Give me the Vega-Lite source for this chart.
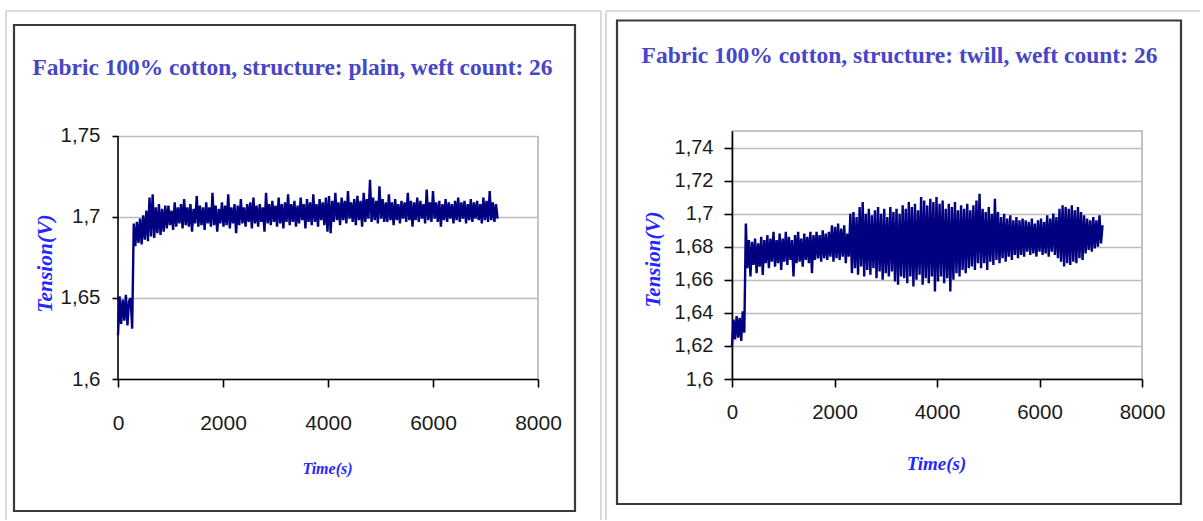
{
  "$schema": "https://vega.github.io/schema/vega-lite/v6.json",
  "padding": {"left": 5, "top": 9, "right": 0, "bottom": 0},
  "spacing": 2,
  "background": "white",
  "config": {
    "font": "Liberation Sans",
    "view": {"stroke": "#b4b4b4", "strokeWidth": 1.6},
    "axis": {
      "domainColor": "#000000",
      "domainWidth": 1.6,
      "tickColor": "#000000",
      "tickWidth": 1.6,
      "gridColor": "#bdbdbd",
      "gridWidth": 1.6,
      "labelFont": "Liberation Sans",
      "labelColor": "#1a1a1a",
      "labelFlush": false,
      "labelOverlap": false,
      "titleFont": "Liberation Serif",
      "titleFontStyle": "italic",
      "titleFontWeight": "bold",
      "titleColor": "#2626ff",
      "titleAlign": "center",
      "titleBaseline": "middle"
    }
  },
  "datasets": {
    "plain": [
      {"t":0,"v":1.627},{"t":30,"v":1.651},{"t":60,"v":1.634},{"t":90,"v":1.649},{"t":120,"v":1.636},{"t":150,"v":1.652},{"t":180,"v":1.633},{"t":210,"v":1.648},{"t":240,"v":1.650},{"t":270,"v":1.631},
      {"t":300,"v":1.696},{"t":330,"v":1.682},{"t":360,"v":1.697},{"t":390,"v":1.684},{"t":420,"v":1.699},{"t":450,"v":1.683},{"t":480,"v":1.701},{"t":510,"v":1.686},{"t":540,"v":1.704},{"t":570,"v":1.685},
      {"t":600,"v":1.712},{"t":630,"v":1.688},{"t":660,"v":1.714},{"t":690,"v":1.687},{"t":720,"v":1.706},{"t":750,"v":1.690},{"t":780,"v":1.708},{"t":810,"v":1.689},{"t":840,"v":1.705},{"t":870,"v":1.691},
      {"t":900,"v":1.707},{"t":930,"v":1.693},{"t":960,"v":1.707},{"t":990,"v":1.695},{"t":1020,"v":1.704},{"t":1050,"v":1.692},{"t":1080,"v":1.709},{"t":1110,"v":1.694},{"t":1140,"v":1.706},{"t":1170,"v":1.696},
      {"t":1200,"v":1.708},{"t":1230,"v":1.693},{"t":1260,"v":1.711},{"t":1290,"v":1.695},{"t":1320,"v":1.706},{"t":1350,"v":1.694},{"t":1380,"v":1.708},{"t":1410,"v":1.691},{"t":1440,"v":1.705},{"t":1470,"v":1.696},
      {"t":1500,"v":1.713},{"t":1530,"v":1.694},{"t":1560,"v":1.707},{"t":1590,"v":1.695},{"t":1620,"v":1.706},{"t":1650,"v":1.692},{"t":1680,"v":1.709},{"t":1710,"v":1.696},{"t":1740,"v":1.706},{"t":1770,"v":1.694},
      {"t":1800,"v":1.715},{"t":1830,"v":1.695},{"t":1860,"v":1.707},{"t":1890,"v":1.691},{"t":1920,"v":1.705},{"t":1950,"v":1.696},{"t":1980,"v":1.709},{"t":2010,"v":1.694},{"t":2040,"v":1.707},{"t":2070,"v":1.695},
      {"t":2100,"v":1.714},{"t":2130,"v":1.693},{"t":2160,"v":1.706},{"t":2190,"v":1.696},{"t":2220,"v":1.708},{"t":2250,"v":1.690},{"t":2280,"v":1.707},{"t":2310,"v":1.695},{"t":2340,"v":1.711},{"t":2370,"v":1.696},
      {"t":2400,"v":1.706},{"t":2430,"v":1.694},{"t":2460,"v":1.708},{"t":2490,"v":1.697},{"t":2520,"v":1.709},{"t":2550,"v":1.693},{"t":2580,"v":1.712},{"t":2610,"v":1.696},{"t":2640,"v":1.707},{"t":2670,"v":1.694},
      {"t":2700,"v":1.708},{"t":2730,"v":1.697},{"t":2760,"v":1.706},{"t":2790,"v":1.691},{"t":2820,"v":1.715},{"t":2850,"v":1.696},{"t":2880,"v":1.708},{"t":2910,"v":1.695},{"t":2940,"v":1.710},{"t":2970,"v":1.697},
      {"t":3000,"v":1.707},{"t":3030,"v":1.694},{"t":3060,"v":1.712},{"t":3090,"v":1.696},{"t":3120,"v":1.708},{"t":3150,"v":1.693},{"t":3180,"v":1.709},{"t":3210,"v":1.697},{"t":3240,"v":1.714},{"t":3270,"v":1.695},
      {"t":3300,"v":1.708},{"t":3330,"v":1.697},{"t":3360,"v":1.710},{"t":3390,"v":1.694},{"t":3420,"v":1.707},{"t":3450,"v":1.696},{"t":3480,"v":1.712},{"t":3510,"v":1.698},{"t":3540,"v":1.708},{"t":3570,"v":1.693},
      {"t":3600,"v":1.711},{"t":3630,"v":1.697},{"t":3660,"v":1.709},{"t":3690,"v":1.695},{"t":3720,"v":1.714},{"t":3750,"v":1.697},{"t":3780,"v":1.708},{"t":3810,"v":1.694},{"t":3840,"v":1.711},{"t":3870,"v":1.698},
      {"t":3900,"v":1.709},{"t":3930,"v":1.695},{"t":3960,"v":1.712},{"t":3990,"v":1.691},{"t":4020,"v":1.713},{"t":4050,"v":1.690},{"t":4080,"v":1.710},{"t":4110,"v":1.697},{"t":4140,"v":1.715},{"t":4170,"v":1.698},
      {"t":4200,"v":1.709},{"t":4230,"v":1.695},{"t":4260,"v":1.712},{"t":4290,"v":1.698},{"t":4320,"v":1.710},{"t":4350,"v":1.696},{"t":4380,"v":1.716},{"t":4410,"v":1.699},{"t":4440,"v":1.709},{"t":4470,"v":1.697},
      {"t":4500,"v":1.711},{"t":4530,"v":1.695},{"t":4560,"v":1.713},{"t":4590,"v":1.698},{"t":4620,"v":1.710},{"t":4650,"v":1.694},{"t":4680,"v":1.715},{"t":4710,"v":1.697},{"t":4740,"v":1.711},{"t":4770,"v":1.699},
      {"t":4800,"v":1.723},{"t":4830,"v":1.697},{"t":4860,"v":1.712},{"t":4890,"v":1.698},{"t":4920,"v":1.710},{"t":4950,"v":1.696},{"t":4980,"v":1.719},{"t":5010,"v":1.699},{"t":5040,"v":1.711},{"t":5070,"v":1.697},
      {"t":5100,"v":1.709},{"t":5130,"v":1.697},{"t":5160,"v":1.714},{"t":5190,"v":1.698},{"t":5220,"v":1.709},{"t":5250,"v":1.695},{"t":5280,"v":1.711},{"t":5310,"v":1.698},{"t":5340,"v":1.708},{"t":5370,"v":1.696},
      {"t":5400,"v":1.710},{"t":5430,"v":1.699},{"t":5460,"v":1.709},{"t":5490,"v":1.697},{"t":5520,"v":1.715},{"t":5550,"v":1.698},{"t":5580,"v":1.710},{"t":5610,"v":1.694},{"t":5640,"v":1.709},{"t":5670,"v":1.698},
      {"t":5700,"v":1.712},{"t":5730,"v":1.697},{"t":5760,"v":1.710},{"t":5790,"v":1.699},{"t":5820,"v":1.708},{"t":5850,"v":1.696},{"t":5880,"v":1.717},{"t":5910,"v":1.698},{"t":5940,"v":1.709},{"t":5970,"v":1.697},
      {"t":6000,"v":1.716},{"t":6030,"v":1.699},{"t":6060,"v":1.709},{"t":6090,"v":1.697},{"t":6120,"v":1.710},{"t":6150,"v":1.694},{"t":6180,"v":1.708},{"t":6210,"v":1.698},{"t":6240,"v":1.711},{"t":6270,"v":1.697},
      {"t":6300,"v":1.709},{"t":6330,"v":1.699},{"t":6360,"v":1.708},{"t":6390,"v":1.696},{"t":6420,"v":1.710},{"t":6450,"v":1.698},{"t":6480,"v":1.712},{"t":6510,"v":1.697},{"t":6540,"v":1.709},{"t":6570,"v":1.699},
      {"t":6600,"v":1.710},{"t":6630,"v":1.696},{"t":6660,"v":1.708},{"t":6690,"v":1.698},{"t":6720,"v":1.711},{"t":6750,"v":1.697},{"t":6780,"v":1.709},{"t":6810,"v":1.699},{"t":6840,"v":1.710},{"t":6870,"v":1.698},
      {"t":6900,"v":1.708},{"t":6930,"v":1.696},{"t":6960,"v":1.712},{"t":6990,"v":1.698},{"t":7020,"v":1.710},{"t":7050,"v":1.697},{"t":7080,"v":1.716},{"t":7110,"v":1.698},{"t":7140,"v":1.709},{"t":7170,"v":1.697},
      {"t":7200,"v":1.708},{"t":7230,"v":1.699}
    ],
    "twill": [
      {"t":0,"v":1.620},{"t":30,"v":1.636},{"t":60,"v":1.624},{"t":90,"v":1.638},{"t":120,"v":1.625},{"t":150,"v":1.637},{"t":180,"v":1.623},{"t":210,"v":1.641},{"t":240,"v":1.628},{"t":270,"v":1.694},
      {"t":300,"v":1.667},{"t":330,"v":1.684},{"t":360,"v":1.662},{"t":390,"v":1.683},{"t":420,"v":1.669},{"t":450,"v":1.685},{"t":480,"v":1.664},{"t":510,"v":1.682},{"t":540,"v":1.668},{"t":570,"v":1.686},
      {"t":600,"v":1.663},{"t":630,"v":1.684},{"t":660,"v":1.670},{"t":690,"v":1.687},{"t":720,"v":1.667},{"t":750,"v":1.685},{"t":780,"v":1.671},{"t":810,"v":1.689},{"t":840,"v":1.668},{"t":870,"v":1.684},
      {"t":900,"v":1.670},{"t":930,"v":1.688},{"t":960,"v":1.666},{"t":990,"v":1.685},{"t":1020,"v":1.671},{"t":1050,"v":1.689},{"t":1080,"v":1.669},{"t":1110,"v":1.686},{"t":1140,"v":1.672},{"t":1170,"v":1.684},
      {"t":1200,"v":1.662},{"t":1230,"v":1.687},{"t":1260,"v":1.670},{"t":1290,"v":1.689},{"t":1320,"v":1.671},{"t":1350,"v":1.685},{"t":1380,"v":1.668},{"t":1410,"v":1.688},{"t":1440,"v":1.672},{"t":1470,"v":1.686},
      {"t":1500,"v":1.670},{"t":1530,"v":1.689},{"t":1560,"v":1.664},{"t":1590,"v":1.687},{"t":1620,"v":1.672},{"t":1650,"v":1.689},{"t":1680,"v":1.673},{"t":1710,"v":1.687},{"t":1740,"v":1.671},{"t":1770,"v":1.690},
      {"t":1800,"v":1.673},{"t":1830,"v":1.688},{"t":1860,"v":1.672},{"t":1890,"v":1.689},{"t":1920,"v":1.674},{"t":1950,"v":1.693},{"t":1980,"v":1.671},{"t":2010,"v":1.692},{"t":2040,"v":1.673},{"t":2070,"v":1.694},
      {"t":2100,"v":1.672},{"t":2130,"v":1.691},{"t":2160,"v":1.674},{"t":2190,"v":1.693},{"t":2220,"v":1.670},{"t":2250,"v":1.688},{"t":2280,"v":1.674},{"t":2310,"v":1.700},{"t":2340,"v":1.664},{"t":2370,"v":1.701},
      {"t":2400,"v":1.667},{"t":2430,"v":1.698},{"t":2460,"v":1.663},{"t":2490,"v":1.704},{"t":2520,"v":1.668},{"t":2550,"v":1.707},{"t":2580,"v":1.662},{"t":2610,"v":1.700},{"t":2640,"v":1.666},{"t":2670,"v":1.703},
      {"t":2700,"v":1.663},{"t":2730,"v":1.699},{"t":2760,"v":1.667},{"t":2790,"v":1.702},{"t":2820,"v":1.661},{"t":2850,"v":1.704},{"t":2880,"v":1.665},{"t":2910,"v":1.700},{"t":2940,"v":1.660},{"t":2970,"v":1.703},
      {"t":3000,"v":1.664},{"t":3030,"v":1.698},{"t":3060,"v":1.662},{"t":3090,"v":1.704},{"t":3120,"v":1.665},{"t":3150,"v":1.701},{"t":3180,"v":1.659},{"t":3210,"v":1.703},{"t":3240,"v":1.657},{"t":3270,"v":1.700},
      {"t":3300,"v":1.662},{"t":3330,"v":1.705},{"t":3360,"v":1.661},{"t":3390,"v":1.703},{"t":3420,"v":1.658},{"t":3450,"v":1.707},{"t":3480,"v":1.662},{"t":3510,"v":1.704},{"t":3540,"v":1.656},{"t":3570,"v":1.706},
      {"t":3600,"v":1.660},{"t":3630,"v":1.702},{"t":3660,"v":1.663},{"t":3690,"v":1.710},{"t":3720,"v":1.657},{"t":3750,"v":1.708},{"t":3780,"v":1.661},{"t":3810,"v":1.705},{"t":3840,"v":1.658},{"t":3870,"v":1.709},
      {"t":3900,"v":1.662},{"t":3930,"v":1.707},{"t":3960,"v":1.653},{"t":3990,"v":1.710},{"t":4020,"v":1.659},{"t":4050,"v":1.706},{"t":4080,"v":1.662},{"t":4110,"v":1.708},{"t":4140,"v":1.658},{"t":4170,"v":1.703},
      {"t":4200,"v":1.661},{"t":4230,"v":1.706},{"t":4260,"v":1.653},{"t":4290,"v":1.704},{"t":4320,"v":1.660},{"t":4350,"v":1.707},{"t":4380,"v":1.664},{"t":4410,"v":1.702},{"t":4440,"v":1.662},{"t":4470,"v":1.705},
      {"t":4500,"v":1.666},{"t":4530,"v":1.703},{"t":4560,"v":1.664},{"t":4590,"v":1.706},{"t":4620,"v":1.667},{"t":4650,"v":1.702},{"t":4680,"v":1.668},{"t":4710,"v":1.705},{"t":4740,"v":1.666},{"t":4770,"v":1.708},
      {"t":4800,"v":1.670},{"t":4830,"v":1.712},{"t":4860,"v":1.667},{"t":4890,"v":1.703},{"t":4920,"v":1.670},{"t":4950,"v":1.701},{"t":4980,"v":1.666},{"t":5010,"v":1.704},{"t":5040,"v":1.671},{"t":5070,"v":1.700},
      {"t":5100,"v":1.669},{"t":5130,"v":1.709},{"t":5160,"v":1.672},{"t":5190,"v":1.701},{"t":5220,"v":1.670},{"t":5250,"v":1.698},{"t":5280,"v":1.673},{"t":5310,"v":1.700},{"t":5340,"v":1.671},{"t":5370,"v":1.697},
      {"t":5400,"v":1.674},{"t":5430,"v":1.699},{"t":5460,"v":1.672},{"t":5490,"v":1.696},{"t":5520,"v":1.675},{"t":5550,"v":1.698},{"t":5580,"v":1.673},{"t":5610,"v":1.696},{"t":5640,"v":1.675},{"t":5670,"v":1.697},
      {"t":5700,"v":1.674},{"t":5730,"v":1.696},{"t":5760,"v":1.677},{"t":5790,"v":1.695},{"t":5820,"v":1.675},{"t":5850,"v":1.697},{"t":5880,"v":1.676},{"t":5910,"v":1.694},{"t":5940,"v":1.674},{"t":5970,"v":1.696},
      {"t":6000,"v":1.677},{"t":6030,"v":1.697},{"t":6060,"v":1.675},{"t":6090,"v":1.695},{"t":6120,"v":1.676},{"t":6150,"v":1.699},{"t":6180,"v":1.674},{"t":6210,"v":1.697},{"t":6240,"v":1.677},{"t":6270,"v":1.700},
      {"t":6300,"v":1.675},{"t":6330,"v":1.698},{"t":6360,"v":1.673},{"t":6390,"v":1.703},{"t":6420,"v":1.671},{"t":6450,"v":1.705},{"t":6480,"v":1.668},{"t":6510,"v":1.704},{"t":6540,"v":1.670},{"t":6570,"v":1.703},
      {"t":6600,"v":1.669},{"t":6630,"v":1.705},{"t":6660,"v":1.671},{"t":6690,"v":1.702},{"t":6720,"v":1.670},{"t":6750,"v":1.704},{"t":6780,"v":1.673},{"t":6810,"v":1.701},{"t":6840,"v":1.672},{"t":6870,"v":1.699},
      {"t":6900,"v":1.676},{"t":6930,"v":1.697},{"t":6960,"v":1.678},{"t":6990,"v":1.696},{"t":7020,"v":1.677},{"t":7050,"v":1.698},{"t":7080,"v":1.679},{"t":7110,"v":1.696},{"t":7140,"v":1.680},{"t":7170,"v":1.699},
      {"t":7200,"v":1.682},{"t":7230,"v":1.693}
    ]
  },
  "hconcat": [
    {
      "width": 420,
      "height": 248,
      "view": {"stroke": null},
      "layer": [
        {
          "data": {"values": [{}]},
          "mark": {"type": "rule", "color": "#dadada", "strokeWidth": 2},
          "encoding": {
            "x": {"datum": -2133.3, "type": "quantitative", "scale": {"domain": [0, 8000], "nice": false}},
            "x2": {"datum": 9200},
            "y": {"datum": 1.82716, "type": "quantitative", "scale": {"domain": [1.6, 1.753086], "nice": false, "zero": false}}
          }
        },
        {
          "data": {"values": [{}]},
          "mark": {"type": "rule", "color": "#dadada", "strokeWidth": 2},
          "encoding": {
            "x": {"datum": -2133.3, "type": "quantitative", "scale": {"domain": [0, 8000], "nice": false}},
            "y": {"datum": 1.82716, "type": "quantitative", "scale": {"domain": [1.6, 1.753086], "nice": false, "zero": false}},
            "y2": {"datum": 1.51296}
          }
        },
        {
          "data": {"values": [{}]},
          "mark": {"type": "rule", "color": "#dadada", "strokeWidth": 2},
          "encoding": {
            "x": {"datum": 9200, "type": "quantitative", "scale": {"domain": [0, 8000], "nice": false}},
            "y": {"datum": 1.82716, "type": "quantitative", "scale": {"domain": [1.6, 1.753086], "nice": false, "zero": false}},
            "y2": {"datum": 1.51296}
          }
        },
        {
          "data": {"values": [{}]},
          "mark": {"type": "rect", "filled": false, "color": "#3a3a3a", "stroke": "#3a3a3a", "strokeWidth": 2.2},
          "encoding": {
            "x": {"datum": -1981, "type": "quantitative", "scale": {"domain": [0, 8000], "nice": false}},
            "x2": {"datum": 8704.8},
            "y": {"datum": 1.818519, "type": "quantitative", "scale": {"domain": [1.6, 1.753086], "nice": false, "zero": false}},
            "y2": {"datum": 1.518519}
          }
        },
        {
          "data": {"values": [{}]},
          "mark": {"type": "text", "text": "Fabric 100% cotton, structure: plain, weft count: 26", "font": "Liberation Serif", "fontWeight": "bold", "fontSize": 23.4, "color": "#4646c8", "align": "center", "baseline": "alphabetic"},
          "encoding": {
            "x": {"datum": 3323.8, "type": "quantitative", "scale": {"domain": [0, 8000], "nice": false}},
            "y": {"datum": 1.787654, "type": "quantitative", "scale": {"domain": [1.6, 1.753086], "nice": false, "zero": false}}
          }
        },
        {
          "data": {"values": [{}]},
          "mark": {"type": "rule", "color": "#b4b4b4", "strokeWidth": 1.6},
          "encoding": {
            "x": {"datum": 8000, "type": "quantitative", "scale": {"domain": [0, 8000], "nice": false}},
            "y": {"datum": 1.6, "type": "quantitative", "scale": {"domain": [1.6, 1.753086], "nice": false, "zero": false}},
            "y2": {"datum": 1.75}
          }
        },
        {
          "data": {"values": [{}]},
          "mark": {"type": "rule", "color": "#000000", "strokeWidth": 1.6},
          "encoding": {
            "x": {"datum": 0, "type": "quantitative", "scale": {"domain": [0, 8000], "nice": false}},
            "y": {"datum": 1.6, "type": "quantitative", "scale": {"domain": [1.6, 1.753086], "nice": false, "zero": false}},
            "y2": {"datum": 1.75}
          }
        },
        {
          "data": {"name": "plain"},
          "mark": {"type": "line", "color": "#000080", "strokeWidth": 2.4},
          "encoding": {
            "x": {
              "field": "t", "type": "quantitative",
              "scale": {"domain": [0, 8000], "nice": false},
              "axis": {
                "values": [0, 2000, 4000, 6000, 8000], "grid": false, "format": "d", "tickCount": 10,
                "title": "Time(s)", "titleFontSize": 16, "titleX": 209, "titleY": 89,
                "labelFontSize": 21, "labelPadding": 25.5, "tickSize": 8
              }
            },
            "y": {
              "field": "v", "type": "quantitative",
              "scale": {"domain": [1.6, 1.753086], "nice": false, "zero": false},
              "axis": {
                "values": [1.6, 1.65, 1.7, 1.75], "grid": true, "domain": false, "tickCount": 10,
                "labelExpr": "replace(format(datum.value, '.2~f'), '.', ',')",
                "title": "Tension(V)", "titleFontSize": 21.5, "titleX": -73, "titleY": 132, "titleAngle": -90,
                "labelFontSize": 20.5, "labelPadding": 12, "tickSize": 6
              }
            }
          }
        }
      ]
    },
    {
      "width": 410,
      "height": 248,
      "layer": [
        {
          "data": {"values": [{}]},
          "mark": {"type": "rule", "color": "#dadada", "strokeWidth": 2},
          "encoding": {
            "x": {"datum": -2458.5, "type": "quantitative", "scale": {"domain": [0, 8000], "nice": false}},
            "x2": {"datum": 9131.7},
            "y": {"datum": 1.822581, "type": "quantitative", "scale": {"domain": [1.6, 1.75], "nice": false, "zero": false}}
          }
        },
        {
          "data": {"values": [{}]},
          "mark": {"type": "rule", "color": "#dadada", "strokeWidth": 2},
          "encoding": {
            "x": {"datum": -2458.5, "type": "quantitative", "scale": {"domain": [0, 8000], "nice": false}},
            "y": {"datum": 1.822581, "type": "quantitative", "scale": {"domain": [1.6, 1.75], "nice": false, "zero": false}},
            "y2": {"datum": 1.514718}
          }
        },
        {
          "data": {"values": [{}]},
          "mark": {"type": "rect", "filled": false, "color": "#3a3a3a", "stroke": "#3a3a3a", "strokeWidth": 2.2},
          "encoding": {
            "x": {"datum": -2243.9, "type": "quantitative", "scale": {"domain": [0, 8000], "nice": false}},
            "x2": {"datum": 8761},
            "y": {"datum": 1.816835, "type": "quantitative", "scale": {"domain": [1.6, 1.75], "nice": false, "zero": false}},
            "y2": {"datum": 1.524395}
          }
        },
        {
          "data": {"values": [{}]},
          "mark": {"type": "text", "text": "Fabric 100% cotton, structure: twill, weft count: 26", "font": "Liberation Serif", "fontWeight": "bold", "fontSize": 23.5, "color": "#4646c8", "align": "center", "baseline": "alphabetic"},
          "encoding": {
            "x": {"datum": 3268.3, "type": "quantitative", "scale": {"domain": [0, 8000], "nice": false}},
            "y": {"datum": 1.791129, "type": "quantitative", "scale": {"domain": [1.6, 1.75], "nice": false, "zero": false}}
          }
        },
        {
          "data": {"name": "twill"},
          "mark": {"type": "line", "color": "#000080", "strokeWidth": 2.4},
          "encoding": {
            "x": {
              "field": "t", "type": "quantitative",
              "scale": {"domain": [0, 8000], "nice": false},
              "axis": {
                "values": [0, 2000, 4000, 6000, 8000], "grid": false, "format": "d", "tickCount": 10,
                "title": "Time(s)", "titleFontSize": 19, "titleX": 204, "titleY": 84,
                "labelFontSize": 20.5, "labelPadding": 15, "tickSize": 8
              }
            },
            "y": {
              "field": "v", "type": "quantitative",
              "scale": {"domain": [1.6, 1.75], "nice": false, "zero": false},
              "axis": {
                "values": [1.6, 1.62, 1.64, 1.66, 1.68, 1.7, 1.72, 1.74], "grid": true, "tickCount": 10,
                "labelExpr": "replace(format(datum.value, '.2~f'), '.', ',')",
                "title": "Tension(V)", "titleFontSize": 21, "titleX": -79, "titleY": 128, "titleAngle": -90,
                "labelFontSize": 20, "labelPadding": 11, "tickSize": 8
              }
            }
          }
        }
      ]
    }
  ]
}
